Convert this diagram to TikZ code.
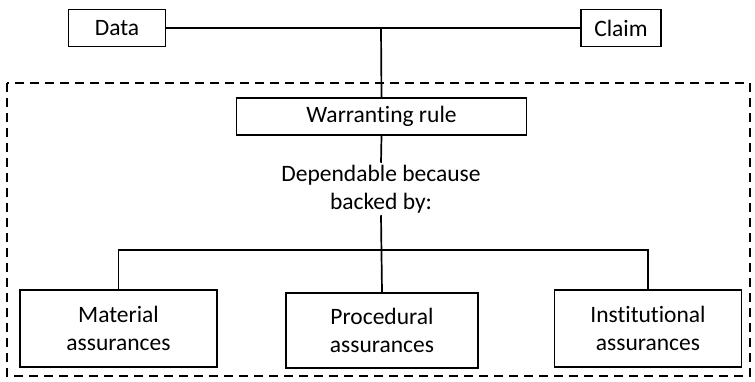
\documentclass[tikz,border=0pt]{standalone}
\usepackage{fontspec}
\setmainfont{Carlito}[Ligatures=NoCommon]
\begin{document}
\begin{tikzpicture}[x=1pt,y=-1pt,
  box/.style={draw,line width=1.7pt,inner sep=0pt,align=center,font=\fontsize{23.5}{28}\selectfont},
  conn/.style={line width=1.7pt},
  frame/.style={line width=1.8pt,dash pattern=on 9pt off 6pt}]
\useasboundingbox (0,0) rectangle (755,382);
\draw[frame] (7,83) rectangle (750,376);
\node[box,minimum width=97pt,minimum height=37pt] (data) at (117,28) {Data};
\node[box,minimum width=80pt,minimum height=37pt] (claim) at (621,28) {Claim};
\node[box,minimum width=290pt,minimum height=37pt] (warr) at (381.5,116.5) {Warranting rule};
\node[align=center,inner sep=2pt,font=\fontsize{23.5}{28}\selectfont] (dep) at (381,189) {Dependable because\\backed by:};
\node[box,minimum width=197pt,minimum height=77pt] (mat) at (118.5,328.5) {Material\\assurances};
\node[box,minimum width=192pt,minimum height=75pt] (proc) at (382,330.5) {Procedural\\assurances};
\node[box,minimum width=187pt,minimum height=77pt] (inst) at (648,328.5) {Institutional\\assurances};
\coordinate (top) at (381,28);
\coordinate (jn) at (381,250);
\draw[conn] (data.east) -- (claim.west);
\draw[conn] (top) -- (warr.north);
\draw[conn] (warr.south) -- (dep.north);
\draw[conn] (dep.south) -- (proc.north);
\draw[conn] (mat.north) |- (jn) -| (inst.north);
\end{tikzpicture}
\end{document}
